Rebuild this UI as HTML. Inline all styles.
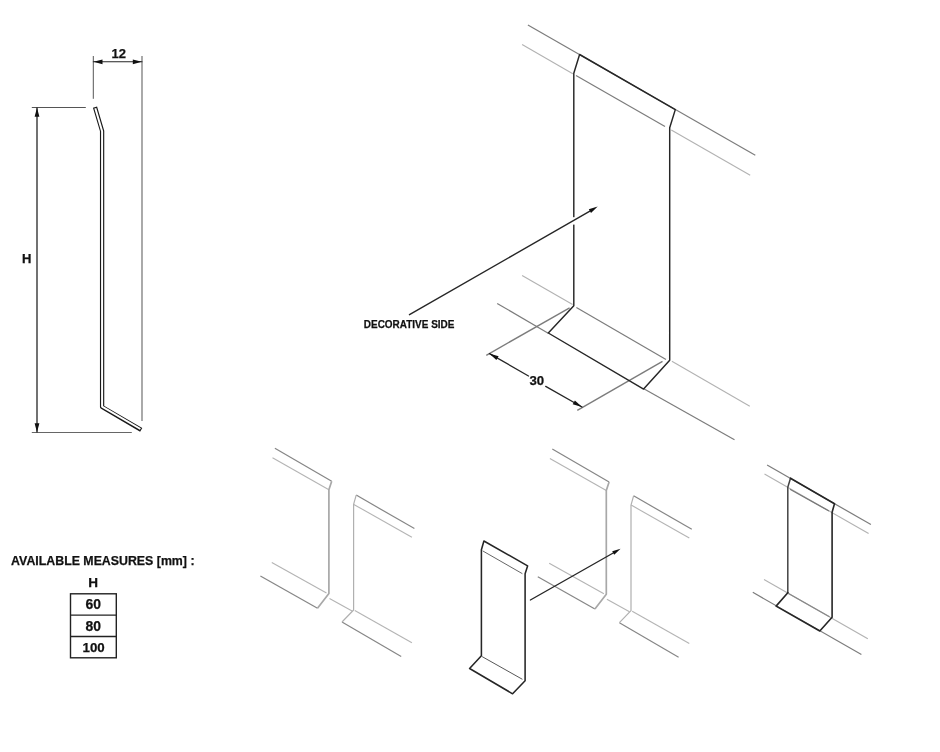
<!DOCTYPE html>
<html>
<head>
<meta charset="utf-8">
<title>Technical drawing</title>
<style>
html,body{margin:0;padding:0;background:#fff;}
svg{display:block;will-change:transform;filter:grayscale(1);}
text{font-family:"Liberation Sans",sans-serif;font-weight:bold;fill:#111;stroke:#111;stroke-width:0.25;}
.k{stroke:#262626;fill:none;stroke-linecap:round;stroke-linejoin:round;}
.g1{stroke:#7c7c7c;fill:none;stroke-width:1.2;}
.g2{stroke:#b2b2b2;fill:none;stroke-width:1.1;}
.l1{stroke:#868686;fill:none;stroke-width:1.2;}
.l2{stroke:#b4b4b4;fill:none;stroke-width:1.1;}
</style>
</head>
<body>
<svg width="940" height="752" viewBox="0 0 940 752">
<rect width="940" height="752" fill="#fff"/>

<!-- ===== Section profile (left) ===== -->
<g id="profile">
  <line x1="93.3" y1="56" x2="93.3" y2="98.8" stroke="#555" stroke-width="1"/>
  <line x1="142" y1="56" x2="142" y2="421" stroke="#7c7c7c" stroke-width="1.3"/>
  <line x1="93.3" y1="61.8" x2="142" y2="61.8" class="k" stroke-width="1.1"/>
  <polygon points="93.5,61.8 102.5,59.4 102.5,64.2" fill="#111"/>
  <polygon points="141.8,61.8 132.8,59.4 132.8,64.2" fill="#111"/>
  <text x="118.8" y="58" font-size="13" text-anchor="middle">12</text>

  <line x1="31.8" y1="107.5" x2="85.8" y2="107.5" stroke="#555" stroke-width="1"/>
  <line x1="31.8" y1="432.5" x2="131.8" y2="432.5" stroke="#666" stroke-width="1.1"/>
  <line x1="37" y1="108" x2="37" y2="432" class="k" stroke-width="1.3"/>
  <polygon points="37,107.8 34.6,116.8 39.4,116.8" fill="#111"/>
  <polygon points="37,432.2 34.6,423.2 39.4,423.2" fill="#111"/>
  <text x="26.8" y="263" font-size="13" text-anchor="middle">H</text>

  <path d="M95,107.2 L102.1,131 L102.1,407 L141.2,429.8" stroke="#1a1a1a" fill="none" stroke-width="4.3" stroke-linejoin="round" stroke-linecap="butt"/>
  <path d="M95.3,108.3 L102.1,131.2 L102.1,406.6 L140.4,429" fill="none" stroke="#fff" stroke-width="2" stroke-linejoin="round"/>
</g>

<!-- ===== Table ===== -->
<g id="table">
  <text x="11.1" y="565" font-size="12.6" textLength="183.4" lengthAdjust="spacingAndGlyphs">AVAILABLE MEASURES [mm] :</text>
  <text x="93" y="587" font-size="13.5" text-anchor="middle">H</text>
  <rect x="70.5" y="593.8" width="45.8" height="64" fill="#fff" stroke="#222" stroke-width="1.4"/>
  <line x1="70.5" y1="615.1" x2="116.3" y2="615.1" stroke="#222" stroke-width="1.4"/>
  <line x1="70.5" y1="636.5" x2="116.3" y2="636.5" stroke="#222" stroke-width="1.4"/>
  <text x="93.2" y="609.3" font-size="13.9" text-anchor="middle">60</text>
  <text x="93.2" y="630.8" font-size="13.9" text-anchor="middle">80</text>
  <text x="93.6" y="652" font-size="13.3" text-anchor="middle">100</text>
</g>

<!-- ===== Main isometric view ===== -->
<g id="main">
  <!-- wall lines -->
  <line x1="527.9" y1="24.9" x2="755.3" y2="155.2" class="g1"/>
  <line x1="522.1" y1="44.6" x2="572.8" y2="73.7" class="g2"/>
  <line x1="671.3" y1="130.1" x2="750.2" y2="175.3" class="g2"/>
  <line x1="522.1" y1="275.4" x2="572.6" y2="304.4" class="g2"/>
  <line x1="671.9" y1="361.3" x2="749.8" y2="406.2" class="g2"/>
  <line x1="497.2" y1="303.4" x2="548.2" y2="333.3" class="g1"/>
  <line x1="643.8" y1="388.8" x2="734.5" y2="439.8" class="g1"/>
  <!-- fold lines on piece -->
  <line x1="576" y1="75.5" x2="665" y2="126.5" class="g1"/>
  <line x1="576.4" y1="307.5" x2="666" y2="359.4" class="g1"/>
  <!-- dimension ext lines -->
  <line x1="569.6" y1="307.8" x2="486.3" y2="355.3" stroke="#7c7c7c" stroke-width="1.4"/>
  <line x1="662.5" y1="361.4" x2="577.3" y2="410.4" stroke="#7c7c7c" stroke-width="1.4"/>
  <!-- piece outline -->
  <path d="M579.6,54.5 L573.8,73.2 L573.8,305.7 L548.3,333 L643.6,389.1 L669.7,360.2 L669.7,127.7 L675.3,109.6 Z" class="k" stroke-width="1.45"/>
  <!-- dimension line -->
  <line x1="489.5" y1="353.6" x2="528.5" y2="376" class="k" stroke-width="1.3"/>
  <line x1="545.7" y1="386.4" x2="582" y2="407" class="k" stroke-width="1.3"/>
  <polygon points="489.2,353.4 498.6,356.2 496.4,360" fill="#111"/>
  <polygon points="582.1,407 572.7,404.2 574.9,400.4" fill="#111"/>
  <text x="536.8" y="385.4" font-size="13.2" text-anchor="middle">30</text>
  <!-- arrow -->
  <rect x="572" y="217.2" width="4" height="7.4" fill="#fff"/>
  <line x1="409.5" y1="314.7" x2="589.9" y2="211.1" class="k" stroke-width="1.4"/>
  <polygon points="597.7,206.6 591.0,213.0 588.8,209.2" fill="#111"/>
  <text x="363.8" y="327.9" font-size="11" textLength="90.6" lengthAdjust="spacingAndGlyphs">DECORATIVE SIDE</text>
</g>

<!-- ===== Bottom: wall pair (used twice) ===== -->
<g id="walls-a">
  <!-- left wall -->
  <line x1="274.9" y1="448.3" x2="331.7" y2="481.2" class="l1"/>
  <line x1="272.5" y1="457.7" x2="328.9" y2="489.8" class="l2"/>
  <line x1="271.8" y1="562.5" x2="326.5" y2="593" class="l2"/>
  <line x1="260.4" y1="576" x2="317.5" y2="608.2" class="l1"/>
  <path d="M331.7,481.2 L328.9,489.8 L328.9,593.5 L317.5,608.2" style="fill:none;stroke:#a8a8a8;stroke-width:1.7;stroke-linejoin:round"/>
  <line x1="329.5" y1="598.5" x2="352.1" y2="611" class="l2"/>
  <!-- right wall -->
  <line x1="356.2" y1="495.1" x2="414.4" y2="528.6" class="l1"/>
  <line x1="353.8" y1="504.4" x2="411.9" y2="537.3" class="l2"/>
  <line x1="354.8" y1="610.6" x2="411.9" y2="642.8" class="l2"/>
  <line x1="342" y1="622" x2="401.2" y2="656.6" class="l1"/>
  <path d="M356.2,495.1 L353.6,504.4 L353.6,610 L342,622" style="fill:none;stroke:#b0b0b0;stroke-width:1.2;stroke-linejoin:round"/>
</g>
<g id="walls-b" transform="translate(277.4 0.7)">
  <!-- left wall -->
  <line x1="274.9" y1="448.3" x2="331.7" y2="481.2" class="l1"/>
  <line x1="272.5" y1="457.7" x2="328.9" y2="489.8" class="l2"/>
  <line x1="271.8" y1="562.5" x2="326.5" y2="593" class="l2"/>
  <line x1="260.4" y1="576" x2="317.5" y2="608.2" class="l1"/>
  <path d="M331.7,481.2 L328.9,489.8 L328.9,593.5 L317.5,608.2" style="fill:none;stroke:#a8a8a8;stroke-width:1.7;stroke-linejoin:round"/>
  <line x1="329.5" y1="598.5" x2="352.1" y2="611" class="l2"/>
  <!-- right wall -->
  <line x1="356.2" y1="495.1" x2="414.4" y2="528.6" class="l1"/>
  <line x1="353.8" y1="504.4" x2="411.9" y2="537.3" class="l2"/>
  <line x1="354.8" y1="610.6" x2="411.9" y2="642.8" class="l2"/>
  <line x1="342" y1="622" x2="401.2" y2="656.6" class="l1"/>
  <path d="M356.2,495.1 L353.6,504.4 L353.6,610 L342,622" style="fill:none;stroke:#b0b0b0;stroke-width:1.2;stroke-linejoin:round"/>
</g>

<!-- small piece + arrow -->
<g id="piece2">
  <line x1="482.7" y1="550.9" x2="522.4" y2="573.7" stroke="#555" stroke-width="0.9"/>
  <line x1="482.1" y1="656.6" x2="522.4" y2="679.3" stroke="#444" stroke-width="0.9"/>
  <path d="M483.9,541 L527.6,565.9 L525.1,573.7 L525.1,680.8 L512.6,693.8 L469.6,668.5 L481.4,655.7 L481.4,549.7 Z" class="k" stroke-width="1.55"/>
  <line x1="530.4" y1="600" x2="613.2" y2="553.0" class="k" stroke-width="1.4"/>
  <polygon points="620.6,548.8 614.2,554.8 612.2,551.2" fill="#111"/>
</g>

<!-- ===== Bottom right: installed ===== -->
<g id="installed">
  <line x1="767.1" y1="464.9" x2="870.9" y2="524.6" class="g1"/>
  <line x1="764.5" y1="474" x2="868.6" y2="533.6" class="g2"/>
  <line x1="764" y1="579.6" x2="867.8" y2="638.7" class="g2"/>
  <line x1="752.8" y1="592.3" x2="861.4" y2="654.6" class="g1"/>
  <line x1="790" y1="489.2" x2="829" y2="511" stroke="#777" stroke-width="1.3"/>
  <line x1="788.5" y1="593.5" x2="829.5" y2="616.8" stroke="#888" stroke-width="1.2"/>
  <path d="M790.5,478.3 L787.8,487.3 L787.8,592.7" class="k" stroke-width="1.5" style="stroke:#444"/>
  <path d="M790.5,478.3 L834.5,503.8 L832.1,512.2 L832.1,617.3 L819.8,631 L776.1,606.1 L787.8,592.7" class="k" stroke-width="1.6"/>
</g>
</svg>
</body>
</html>
